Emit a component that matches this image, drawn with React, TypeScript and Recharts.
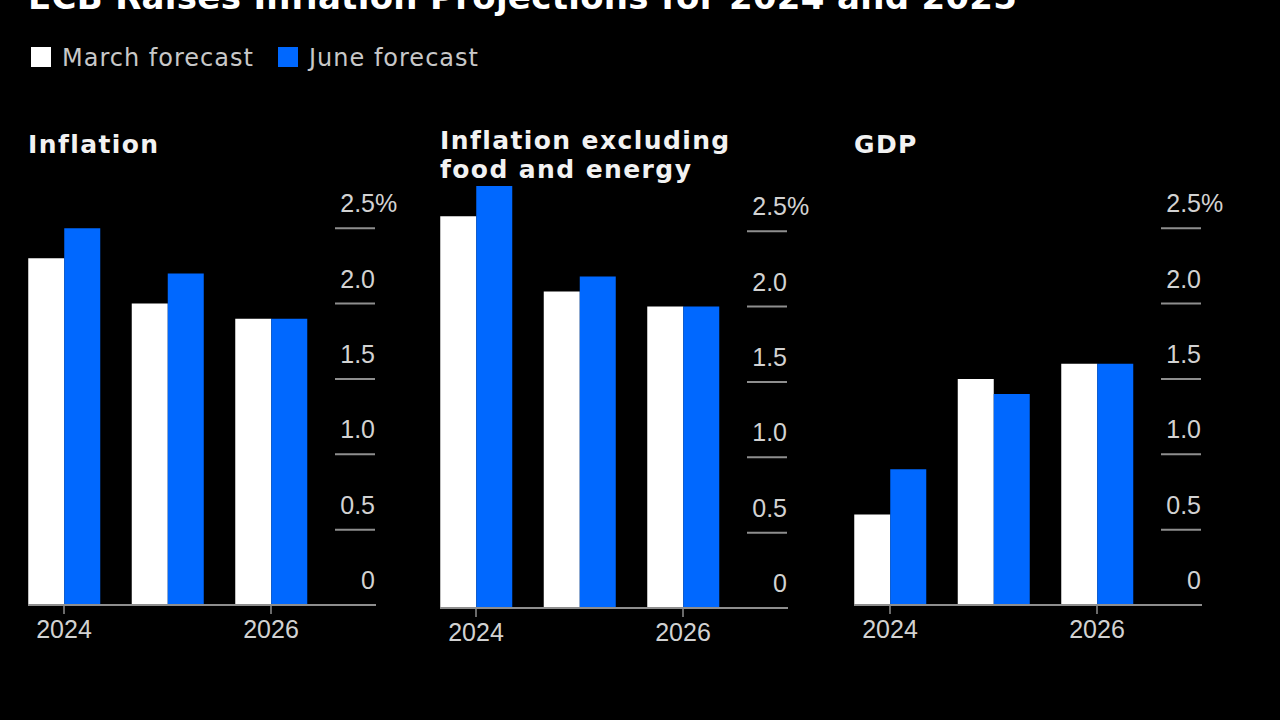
import React from "react";
import { Bar, BarChart, XAxis, YAxis } from "recharts";

const TITLE = "ECB Raises Inflation Projections for 2024 and 2025";
const SERIES = ["March forecast", "June forecast"];
const YEARS = ["2024", "2025", "2026"];
const LABELED_YEARS = ["2024", "2026"];

const INFLATION_MARCH = [2.3, 2.0, 1.9];
const INFLATION_JUNE = [2.5, 2.2, 1.9];
const CORE_MARCH = [2.6, 2.1, 2.0];
const CORE_JUNE = [2.8, 2.2, 2.0];
const GDP_MARCH = [0.6, 1.5, 1.6];
const GDP_JUNE = [0.9, 1.4, 1.6];

const Y_TICKS = [0, 0.5, 1, 1.5, 2, 2.5];
const Y_MAX = 2.8;

const WHITE = "#ffffff";
const BLUE = "#0068ff";
const TICK_TEXT = "#d2d2d2";
const RULE = "#8e8e8e";
const LABEL_FONT = "'Liberation Sans', Arial, sans-serif";
const HEAD_FONT = "'DejaVu Sans', Verdana, sans-serif";

const rows = (march: number[], june: number[]) =>
  YEARS.map((year, i) => ({ year, march: march[i], june: june[i] }));

const PANELS = [
  { title: ["Inflation"], data: rows(INFLATION_MARCH, INFLATION_JUNE), left: 18, top: 170 },
  { title: ["Inflation excluding", "food and energy"], data: rows(CORE_MARCH, CORE_JUNE), left: 430, top: 173 },
  { title: ["GDP"], data: rows(GDP_MARCH, GDP_JUNE), left: 844, top: 170 },
];

// tick sits on the plot's right edge: short rule to the left, label above it
function YTick(props: any) {
  const { x, y, payload } = props;
  const v = Number(payload.value);
  const top = v === Y_TICKS[Y_TICKS.length - 1];
  const label = v === 0 ? "0" : v.toFixed(1);
  const right = x - 1;
  return (
    <g>
      {v !== 0 && <line x1={right - 40} x2={right} y1={y} y2={y} stroke={RULE} strokeWidth={2} />}
      <text x={right} y={y - 16} textAnchor="end" fill={TICK_TEXT} fontSize={25} fontFamily={LABEL_FONT}>
        {label}
      </text>
      {top && (
        <text x={right} y={y - 16} textAnchor="start" fill={TICK_TEXT} fontSize={25} fontFamily={LABEL_FONT}>
          %
        </text>
      )}
    </g>
  );
}

function XTick(props: any) {
  const { x, y, payload } = props;
  if (!LABELED_YEARS.includes(payload.value)) return <g />;
  return (
    <g>
      <line x1={x} x2={x} y1={y} y2={y + 9} stroke={RULE} strokeWidth={1.5} />
      <text x={x} y={y + 33} textAnchor="middle" fill={TICK_TEXT} fontSize={25} fontFamily={LABEL_FONT}>
        {payload.value}
      </text>
    </g>
  );
}

function Panel({ data, left, top }: { data: any[]; left: number; top: number }) {
  return (
    <div style={{ position: "absolute", left, top }}>
      <BarChart width={400} height={480} data={data} margin={{ top: 13, right: 41, bottom: 0, left: 10 }} barGap={0}>
        <XAxis
          dataKey="year"
          height={45}
          interval={0}
          padding={{ left: -15.75, right: 53.25 }}
          axisLine={{ stroke: RULE, strokeWidth: 2 }}
          tickLine={false}
          tickSize={0}
          tickMargin={0}
          tick={<XTick />}
        />
        <YAxis
          orientation="right"
          width={1}
          domain={[0, Y_MAX]}
          ticks={Y_TICKS}
          interval={0}
          allowDataOverflow
          axisLine={false}
          tickLine={false}
          tickSize={0}
          tickMargin={0}
          tick={<YTick />}
        />
        <Bar dataKey="march" name={SERIES[0]} fill={WHITE} barSize={36} isAnimationActive={false} />
        <Bar dataKey="june" name={SERIES[1]} fill={BLUE} barSize={36} isAnimationActive={false} />
      </BarChart>
    </div>
  );
}

export default function App() {
  const titleX = [28, 440, 854];
  return (
    <div style={{ position: "absolute", left: 0, top: 0, width: 1280, height: 720, background: "#000", overflow: "hidden" }}>
      <svg width={1280} height={200} style={{ position: "absolute", left: 0, top: 0 }}>
        <text x={28} y={9} fill="#ffffff" fontSize={34} fontWeight="bold" fontFamily={HEAD_FONT} letterSpacing={0.3}>
          {TITLE}
        </text>
        <rect x={31} y={47} width={20} height={20} fill={WHITE} />
        <text x={62} y={66} fill="#c8c8c8" fontSize={24} fontFamily={HEAD_FONT} letterSpacing={1}>
          {SERIES[0]}
        </text>
        <rect x={278} y={47} width={20} height={20} fill={BLUE} />
        <text x={309} y={66} fill="#c8c8c8" fontSize={24} fontFamily={HEAD_FONT} letterSpacing={1}>
          {SERIES[1]}
        </text>
        {PANELS.map((p, i) =>
          p.title.map((line, j) => (
            <text
              key={`${i}-${j}`}
              x={titleX[i]}
              y={(p.title.length > 1 ? 149 : 153) + j * 29}
              fill="#f2f2f2"
              fontSize={25}
              fontWeight="bold"
              fontFamily={HEAD_FONT}
              letterSpacing={1.4}
            >
              {line}
            </text>
          ))
        )}
      </svg>
      {PANELS.map((p, i) => (
        <Panel key={i} data={p.data} left={p.left} top={p.top} />
      ))}
    </div>
  );
}
